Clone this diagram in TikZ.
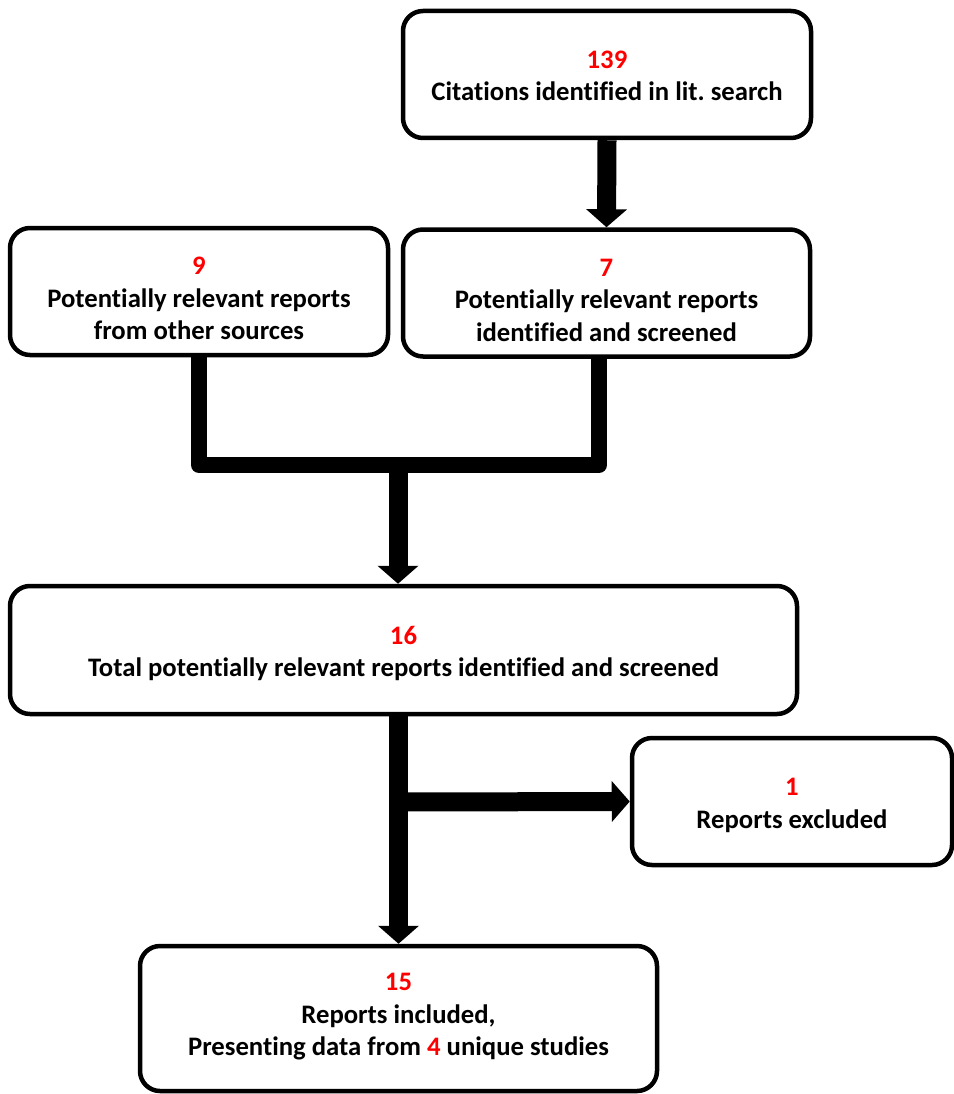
\documentclass[tikz,border=0pt]{standalone}
\usepackage{fontspec}
\setmainfont{Carlito}[Ligatures={NoCommon}]
\usetikzlibrary{arrows.meta,calc}
\frenchspacing
\newcommand\topstrut[1]{\rule{0pt}{#1}}
\newcommand\botstrut[1]{\rule[-#1]{0pt}{#1}}
\begin{document}
\begin{tikzpicture}[x=1pt,y=-1pt,
  box/.style={draw=black, line width=4.5pt, rounded corners=20pt, fill=white,
    align=center, inner sep=0pt,
    font=\fontsize{26.7}{32.5}\selectfont\bfseries},
  arr/.style={line width=19pt, -{Triangle[length=18pt,width=40pt]}},
  merge/.style={line width=16pt, line join=round}
]
\useasboundingbox (0,0) rectangle (953,1094);
\node[box, minimum width=408pt, minimum height=127pt] (b1) at (607,74.5)
  {\topstrut{26pt}\textcolor{red}{139}\\Citations identified in lit. search\botstrut{6pt}};
\node[box, minimum width=407pt, minimum height=127pt] (b7) at (606.5,293)
  {\topstrut{37pt}\textcolor{red}{7}\\Potentially relevant reports\\identified and screened\botstrut{6pt}};
\node[box, minimum width=378pt, minimum height=127pt] (b9) at (199,291.5)
  {\topstrut{37pt}\textcolor{red}{9}\\Potentially relevant reports\\from other sources\botstrut{6pt}};
\node[box, minimum width=787pt, minimum height=128pt] (b16) at (403.5,650)
  {\topstrut{27pt}\textcolor{red}{16}\\Total potentially relevant reports identified and screened\botstrut{6pt}};
\node[box, minimum width=320pt, minimum height=127pt] (bx) at (792,801.5)
  {\topstrut{27pt}\textcolor{red}{1}\\Reports excluded\botstrut{6pt}};
\node[box, minimum width=517pt, minimum height=145pt] (b15) at (398.5,1018.5)
  {\topstrut{20pt}\textcolor{red}{15}\\Reports included,\\Presenting data from \textcolor{red}{4} unique studies\botstrut{11pt}};
\coordinate (m) at (398,465);
\coordinate (b7s) at (599,357);
\coordinate (br) at (397,802);
\draw[arr] (b1.south) -- (b7.north);
\draw[merge] (b9.south) |- (m) -| (b7s);
\draw[arr] ([yshift=-7pt]m) -- (m |- b16.north);
\draw[arr] (b16.south -| b15.north) -- (b15.north);
\draw[arr] (br) -- (bx.west);
\end{tikzpicture}
\end{document}
